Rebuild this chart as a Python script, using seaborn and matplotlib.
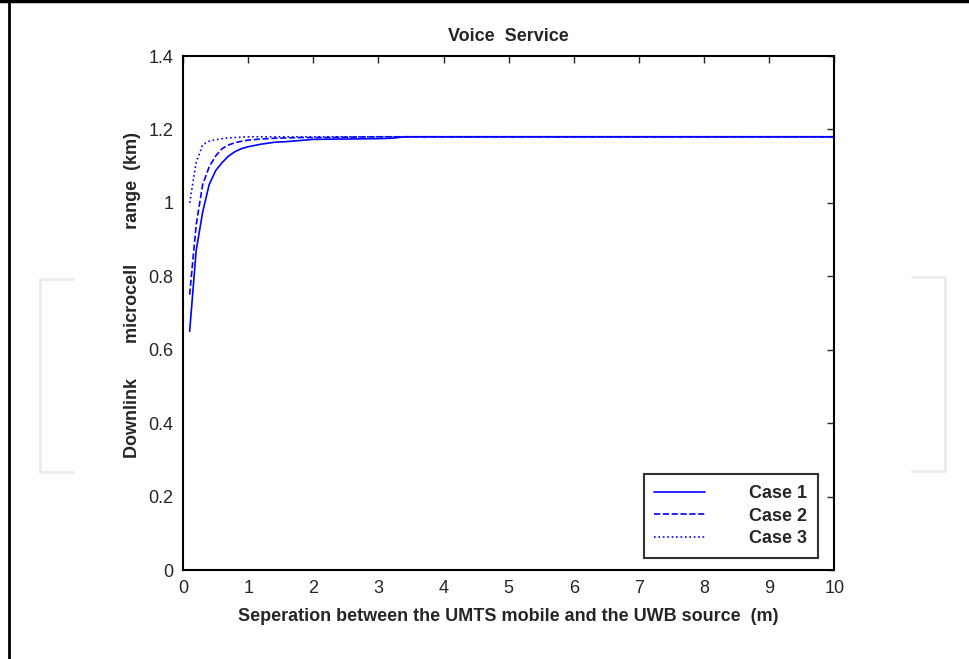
import numpy as np
import pandas as pd
import matplotlib
matplotlib.use("Agg")
import matplotlib.pyplot as plt
from matplotlib.lines import Line2D
import seaborn as sns

# separation between the UMTS mobile and the UWB source (m)
separation = [0.1, 0.2, 0.3, 0.4, 0.5, 0.6, 0.7, 0.8, 0.9, 1.0,
              1.2, 1.4, 1.6, 1.8, 2.0, 2.5, 3.0, 3.2, 3.4, 10.0]

# downlink microcell range (km)
case1 = [0.65, 0.87, 0.975, 1.05, 1.088, 1.11, 1.128, 1.14, 1.148, 1.153,
         1.16, 1.165, 1.167, 1.17, 1.173, 1.174, 1.175, 1.176, 1.18, 1.18]
case2 = [0.75, 0.94, 1.05, 1.098, 1.128, 1.148, 1.158, 1.164, 1.168, 1.171,
         1.174, 1.176, 1.177, 1.178, 1.178, 1.179, 1.18, 1.18, 1.18, 1.18]
case3 = [1.0, 1.11, 1.158, 1.168, 1.172, 1.175, 1.177, 1.178, 1.179, 1.18,
         1.18, 1.18, 1.18, 1.18, 1.18, 1.18, 1.18, 1.18, 1.18, 1.18]

case_names = ["Case 1", "Case 2", "Case 3"]
line_styles = ["-", "--", ":"]

x_ticks = [0, 1, 2, 3, 4, 5, 6, 7, 8, 9, 10]
y_ticks = [0, 0.2, 0.4, 0.6, 0.8, 1.0, 1.2, 1.4]
y_tick_labels = ["0", "0.2", "0.4", "0.6", "0.8", "1", "1.2", "1.4"]

sns.set_style("white")
plt.rcParams["font.family"] = ["Liberation Sans", "DejaVu Sans"]

fig = plt.figure(figsize=(9.69, 6.59), dpi=100)
ax = fig.add_axes([0.189, 0.135, 0.672, 0.780])

for name, values, ls in zip(case_names, [case1, case2, case3], line_styles):
    sns.lineplot(x=separation, y=values, ax=ax, color="#0000ff",
                 linestyle=ls, linewidth=1.2, label=name)

ax.set_xlim(0, 10)
ax.set_ylim(0, 1.4)
ax.set_xticks(x_ticks)
ax.set_yticks(y_ticks)
ax.set_yticklabels(y_tick_labels)
ax.tick_params(direction="in", length=5, width=1, top=True, right=True,
               labelsize=13, pad=7)
for side in ax.spines.values():
    side.set_visible(True)
    side.set_color("black")
    side.set_linewidth(1.5)

ax.set_title("Voice  Service", fontsize=13, fontweight="bold", pad=11)
ax.set_xlabel("Seperation between the UMTS mobile and the UWB source  (m)",
              fontsize=13, fontweight="bold", labelpad=8)
ax.set_ylabel("Downlink       microcell       range  (km)",
              fontsize=13, fontweight="bold")
ax.yaxis.set_label_coords(-0.064, 0.535)

leg = ax.legend(loc="lower right", bbox_to_anchor=(0.975, 0.023),
                frameon=True, fancybox=False, handlelength=2.8,
                handletextpad=2.45, labelspacing=0.32, borderpad=0.6,
                borderaxespad=0, prop={"weight": "bold", "size": 13})
leg.get_frame().set_edgecolor("black")
leg.get_frame().set_linewidth(1.5)

# page frame and the faint grey brackets of the source page
fig.add_artist(Line2D([0, 1], [0.998, 0.998], color="black", lw=2.5))
fig.add_artist(Line2D([0.0095, 0.0095], [0, 1], color="black", lw=2))
grey = "#ececec"
fig.add_artist(Line2D([0.075, 0.041, 0.041, 0.075],
                      [0.577, 0.577, 0.284, 0.284], color=grey, lw=2))
fig.add_artist(Line2D([0.941, 0.975, 0.975, 0.941],
                      [0.580, 0.580, 0.286, 0.286], color=grey, lw=2))

fig.savefig("out.png", dpi=100)
